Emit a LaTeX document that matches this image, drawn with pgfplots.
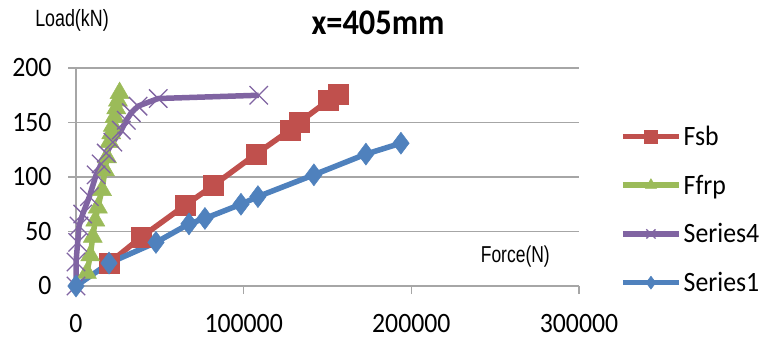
\documentclass[border=0pt]{standalone}
\usepackage{fontspec}
\setmainfont{Carlito}
\newfontfamily\tickfont[FakeStretch=0.92]{Carlito}
\newfontfamily\titlefont[FakeStretch=0.9]{Carlito}
\newfontfamily\labfont[FakeStretch=0.76]{Liberation Sans}
\usepackage{pgfplots}
\pgfplotsset{compat=1.18}
\definecolor{cFsb}{HTML}{C0504D}
\definecolor{cFfrp}{HTML}{9BBB59}
\definecolor{cS4}{HTML}{8064A2}
\definecolor{cS1}{HTML}{4F81BD}
\definecolor{cGrid}{HTML}{A6A6A6}
\begin{document}
\begin{tikzpicture}[x=1bp,y=1bp]
\useasboundingbox (0,0) rectangle (761,341);
\node at (378,318) {\titlefont\bfseries\fontsize{36bp}{40bp}\selectfont x=405mm};
\node at (72,321) {\labfont\fontsize{23.5bp}{26bp}\selectfont Load(kN)};
\begin{axis}[
  at={(76bp,55bp)}, anchor=south west,
  scale only axis, width=503bp, height=218bp,
  xmin=0, xmax=300000, ymin=0, ymax=200,
  xtick={0,100000,200000,300000},
  xticklabels={0,100000,200000,300000},
  ytick={0,50,100,150,200},
  yticklabels={0,50,100,150,200},
  scaled x ticks=false, scaled y ticks=false,
  axis lines=left,
  axis line style={-, draw=cGrid, line width=1.2bp},
  ymajorgrids, grid style={draw=cGrid, line width=1.2bp},
  tick align=outside, major tick length=8bp,
  tick style={draw=cGrid, line width=1.2bp},
  every tick label/.append style={font=\tickfont\fontsize{28bp}{30bp}\selectfont},
  xticklabel style={yshift=-17bp},
  yticklabel style={xshift=-13bp},
  clip=false,
  legend style={draw=none, fill=none, at={(1.0815,0.351)}, anchor=west,
    inner sep=0pt, row sep=28bp,
    nodes={inner xsep=2bp, inner ysep=0pt, font=\tickfont\fontsize{28bp}{30bp}\selectfont}},
  legend cell align=left,
  legend image code/.code={
    \draw[#1, mark size=6.5bp, mark repeat=2, mark phase=2] plot coordinates {(0bp,0bp) (28bp,0bp) (56bp,0bp)};
  },
]
\addplot[cFsb, line width=5.5bp, mark=square*, mark size=10bp, mark options={solid, line width=0.5bp, fill=cFsb}]
coordinates {(19700,21)(39000,45)(65000,74)(81700,92)(107300,121)(127600,143)(133000,150)(150300,170)(156200,176)};
\addlegendentry{Fsb}
\addplot[cFfrp, line width=5.5bp, mark=triangle*, mark size=11bp, mark options={solid, line width=0.5bp, fill=cFfrp}]
coordinates {(6500,12)(8500,28)(10000,45)(11500,60)(13000,72)(15500,88)(17300,106)(18500,118)(20000,132)(21000,140)(22000,147)(23000,155)(24000,163)(25000,170)(26000,177)};
\addlegendentry{Ffrp}
\addplot[cS4, line width=5.5bp, mark=x, mark size=13bp, mark options={solid, line width=1.3bp}]
coordinates {(0,0)(0,22)(1000,40)(1800,55)(4000,66)(8000,82)(12000,102)(15000,112)(18000,122)(22000,132)(27000,143)(30000,152)(33000,159)(37000,165)(49000,172)(109000,175)};
\addlegendentry{Series4}
\addplot[cS1, line width=5.5bp, mark=diamond*, mark size=11bp, mark options={solid, line width=0.5bp, fill=cS1}]
coordinates {(0,0)(19700,21)(47700,40)(67400,57)(76900,62)(98400,75)(108500,82)(141900,102)(172900,121)(193800,131)};
\addlegendentry{Series1}
\node[font=\labfont\fontsize{23bp}{25bp}\selectfont, fill=none] at (axis cs:262000,27) {Force(N)};
\end{axis}
\end{tikzpicture}
\end{document}
